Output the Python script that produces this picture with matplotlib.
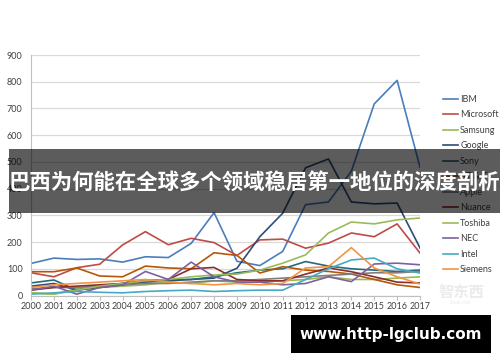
import matplotlib
matplotlib.use("Agg")
import matplotlib.pyplot as plt
from matplotlib.patches import Rectangle

years = list(range(2000, 2018))
year_labels = [str(y) for y in years]

ibm       = [120, 140, 135, 137, 125, 145, 142, 195, 310, 128, 112, 165, 340, 350, 465, 717, 805, 480]
microsoft = [85, 70, 104, 117, 189, 239, 190, 214, 198, 150, 208, 211, 177, 196, 234, 220, 268, 159]
samsung   = [10, 5, 25, 30, 35, 40, 50, 45, 55, 50, 50, 55, 60, 70, 60, 60, 65, 70]
google    = [35, 45, 20, 30, 40, 50, 55, 60, 65, 102, 220, 308, 478, 511, 350, 343, 346, 178]
sony      = [47, 58, 20, 35, 45, 55, 60, 60, 70, 85, 95, 100, 127, 110, 100, 95, 90, 95]
att       = [89, 89, 103, 73, 70, 110, 103, 100, 160, 150, 84, 108, 95, 90, 80, 60, 40, 30]
other     = [25, 30, 30, 35, 40, 45, 45, 50, 55, 55, 60, 65, 70, 75, 80, 85, 85, 90]
nuance    = [20, 30, 35, 40, 45, 55, 60, 100, 105, 60, 55, 55, 80, 103, 89, 70, 50, 47]
toshiba   = [10, 5, 20, 35, 45, 55, 60, 70, 77, 80, 95, 121, 152, 234, 275, 268, 283, 290]
nec       = [20, 35, 5, 30, 40, 90, 60, 125, 70, 50, 50, 40, 45, 70, 52, 118, 121, 115]
intel     = [5, 10, 15, 12, 10, 15, 18, 20, 15, 18, 20, 20, 60, 100, 133, 140, 100, 84]
siemens   = [30, 40, 45, 50, 55, 60, 50, 45, 40, 45, 40, 45, 103, 108, 179, 103, 70, 43]

series = [
    ("IBM", ibm, "#4A7EBB"),
    ("Microsoft", microsoft, "#BE4B48"),
    ("Samsung", samsung, "#98B954"),
    ("Google", google, "#2C4D75"),
    ("Sony", sony, "#276A7C"),
    ("AT & T", att, "#B65708"),
    ("Apple", other, "#7F7F7F"),
    ("Nuance", nuance, "#8B2E2B"),
    ("Toshiba", toshiba, "#9BBB59"),
    ("NEC", nec, "#7D60A0"),
    ("Intel", intel, "#46AAC5"),
    ("Siemens", siemens, "#F39441"),
]

plt.rcParams['font.family'] = ['Lato', 'DejaVu Sans']
fig = plt.figure(figsize=(5.0, 3.62), dpi=100)
ax = fig.add_axes([31/500, 1-295.5/362, (420-31)/500, (295.5-55)/362])

for name, vals, col in series:
    ax.plot(years, vals, color=col, lw=1.2, label=name)

ax.set_xlim(2000, 2017)
ax.set_ylim(0, 900)
ax.set_yticks(range(0, 901, 100))
ax.set_xticks(years)
ax.set_xticklabels(year_labels)
ax.grid(axis='y', color='#D9D9D9', lw=0.9)
ax.set_axisbelow(True)
for s in ['top', 'right']:
    ax.spines[s].set_visible(False)
ax.spines['left'].set_color('#BFBFBF')
ax.spines['bottom'].set_color('#BFBFBF')
ax.tick_params(axis='y', length=0, labelsize=6.5, colors='#404040', pad=6)
ax.tick_params(axis='x', length=3, color='#BFBFBF', labelsize=6.5, labelcolor='#404040', pad=2)

leg = ax.legend(loc='upper left', bbox_to_anchor=(1.05, 0.85), frameon=False,
                fontsize=6.5, handlelength=1.6, handletextpad=0.3, labelspacing=0.72,
                borderaxespad=0)
for t in leg.get_texts():
    t.set_color('#404040')

# watermark
fig.text(461/500, 1-292/362, "智东西", fontsize=11, color='#EBEBEB', ha='center', va='center',
         family=['Noto Sans CJK SC', 'DejaVu Sans'], fontweight='bold')
fig.text(461/500, 1-303/362, "zhidx.com", fontsize=3.5, color='#EBEBEB', ha='center', va='center')

# banner overlay
fig.patches.append(Rectangle((9/500, 1-213/362), (500-9)/500, 64/362, transform=fig.transFigure,
                             facecolor='black', alpha=0.64, edgecolor='none', zorder=10))
fig.text(9/500, 1-182/362, "巴西为何能在全球多个领域稳居第一地位的深度剖析", fontsize=15.4,
         color='white', fontweight='bold', ha='left', va='center', zorder=11,
         family=['Noto Sans CJK SC', 'DejaVu Sans'])

# url box
fig.patches.append(Rectangle((291/500, 1-353/362), 200/500, 38/362, transform=fig.transFigure,
                             facecolor='black', edgecolor='none', zorder=10))
fig.text(391/500, 1-334/362, "www.http-lgclub.com", fontsize=11, color='white', fontweight='bold',
         ha='center', va='center', zorder=11, family='DejaVu Sans')

fig.savefig("out.png", dpi=100)
